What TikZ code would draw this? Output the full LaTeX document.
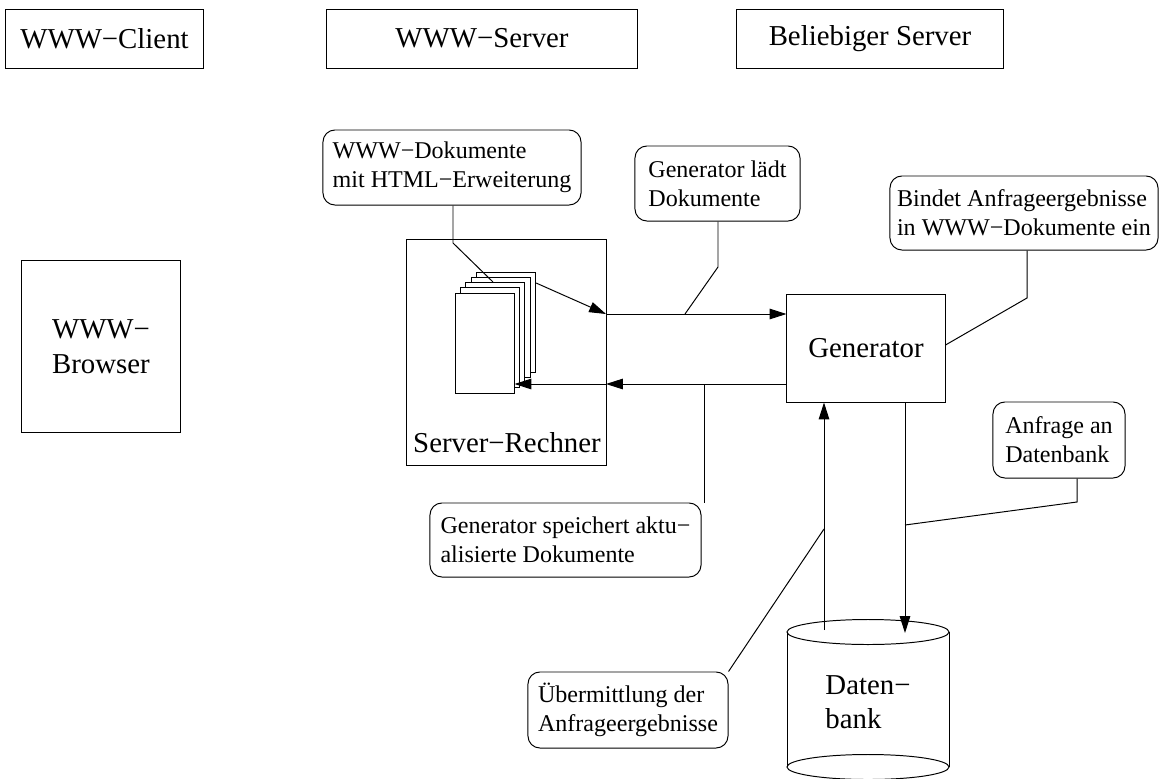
\documentclass[tikz,border=0pt]{standalone}
\usepackage{fontspec}
\setmainfont{Liberation Serif}
\usetikzlibrary{arrows.meta}
\newcommand\fbig{\fontsize{20.5pt}{24.6pt}\selectfont}
\newcommand\fsmall{\fontsize{17.1pt}{20.6pt}\selectfont}

\begin{document}
\begin{tikzpicture}[x=0.025cm,y=-0.025cm, line width=0.7pt,
  box/.style={draw, rectangle, inner sep=0pt, font=\fbig, align=center},
  note/.style={draw, rectangle, rounded corners=8.5pt, inner sep=0pt, font=\fsmall, align=left},
  page/.style={draw, fill=white, rectangle, inner sep=0pt, minimum width=1.475cm, minimum height=2.5cm},
  flow/.style={-{Triangle[length=12pt,width=7.5pt]}}]

\useasboundingbox (0,0) rectangle (1160,778);

% column headings
\node[box, minimum width=4.925cm, minimum height=1.475cm] (client) at (104.5,38.5) {WWW−Client};
\node[box, minimum width=7.75cm, minimum height=1.475cm] (server) at (482,38.5) {WWW−Server};
\node[box, minimum width=6.65cm, minimum height=1.475cm] (anyserver) at (870,38.5) {Beliebiger Server};

% browser
\node[box, align=left, minimum width=3.95cm, minimum height=4.275cm] (browser) at (101,346.5) {WWW−\\Browser};

% server machine with document stack
\node[box, minimum width=4.975cm, minimum height=5.625cm] (serverpc) at (506.5,352.5) {};
\node[font=\fbig, anchor=base, inner sep=0pt] (pcname) at (507,452) {Server−Rechner};
\foreach \i in {4,3,2,1,0}
  \node[page] (page\i) at ({484.5+5.4*\i},{343-5.25*\i}) {};

% generator
\node[box, minimum width=3.95cm, minimum height=2.7cm] (generator) at (866,348) {Generator};

% database cylinder
\draw (787,632) -- (787,767) (949,632) -- (949,767);
\draw (868,632) ellipse [x radius=2.025cm, y radius=0.3125cm];
\draw (868,767) ellipse [x radius=2.025cm, y radius=0.3125cm];
\node[font=\fbig, align=left, anchor=west, inner sep=0pt] (dbname) at (825,702) {Daten−\\bank};
\coordinate (dbin) at (905,633);
\coordinate (dbout) at (824,630);

% annotations
\node[note, minimum width=6.45cm, minimum height=1.875cm] (docsLbl) at (452,167.5) {WWW−Dokumente\\mit HTML−Erweiterung};
\node[note, minimum width=4.125cm, minimum height=1.875cm] (loadLbl) at (717.5,183.5) {Generator lädt\\Dokumente};
\node[note, minimum width=6.7cm, minimum height=1.85cm] (bindLbl) at (1024,213) {Bindet Anfrageergebnisse\\in WWW−Dokumente ein};
\node[note, minimum width=3.3cm, minimum height=1.9cm] (anfLbl) at (1059,440) {Anfrage an\\Datenbank};
\node[note, minimum width=6.775cm, minimum height=1.85cm] (saveLbl) at (565.5,540) {Generator speichert aktu−\\alisierte Dokumente};
\node[note, minimum width=5cm, minimum height=1.9cm] (uebLbl) at (628,710) {Übermittlung der\\Anfrageergebnisse};

% data flow
\coordinate (tIn) at (606,314);
\coordinate (tOut) at (606,384);
\draw[flow] (page4.east |- 0,283) -- (tIn);
\draw[flow] (tIn) -- (generator.west |- tIn);
\draw[flow] (generator.west |- tOut) -- (tOut);
\draw[flow] (tOut) -- (page0.east |- tOut);
\draw[flow] (generator.south -| dbin) -- (dbin);
\draw[flow] (dbout) -- (generator.south -| dbout);

% annotation leaders
\coordinate (jLoad) at (685,314);
\coordinate (jSave) at (704,384);
\coordinate (jAnf) at (905,525);
\coordinate (jUeb) at (824,529);
\draw (docsLbl.south -| 453,0) -- (453,243) -- (page2.north -| 493,0);
\draw (loadLbl.south -| 718,0) -- (718,267) -- (jLoad);
\draw (bindLbl.south -| 1027,0) -- (1027,298) -- (generator.east |- 0,345);
\draw (anfLbl.south -| 1077,0) -- (1077,502) -- (jAnf);
\draw (jSave) -- (saveLbl.north east -| jSave);
\draw (uebLbl.north east) -- (jUeb);
\end{tikzpicture}
\end{document}
